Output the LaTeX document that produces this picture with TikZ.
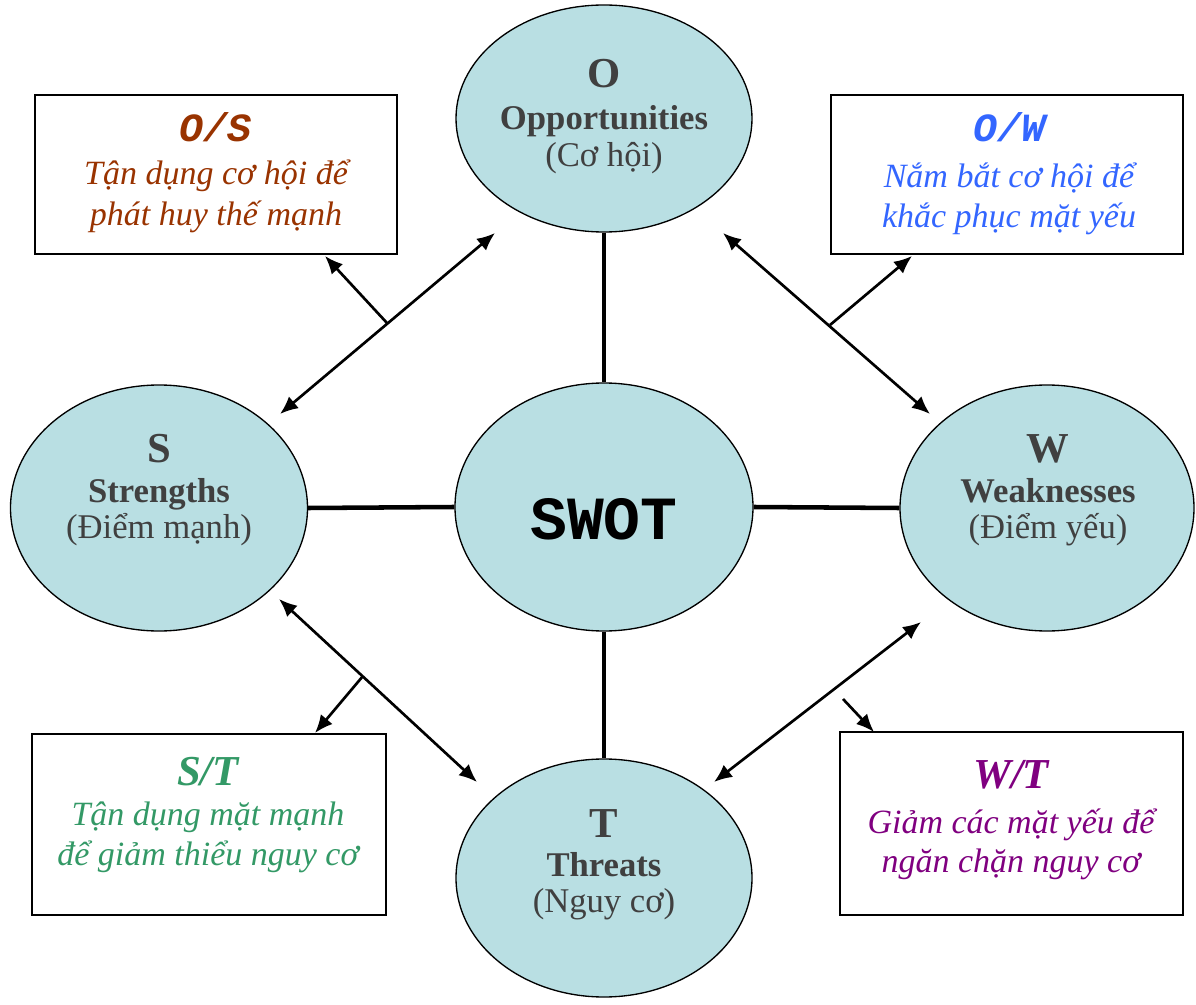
\documentclass[tikz,border=0pt]{standalone}
\usepackage{fontspec}
\setmainfont{Liberation Serif}
\setmonofont{Liberation Mono}
\usetikzlibrary{shapes.geometric,arrows.meta}
\definecolor{ellfill}{RGB}{185,223,227}
\definecolor{txtgray}{RGB}{64,64,64}
\definecolor{osc}{RGB}{153,51,0}
\definecolor{owc}{RGB}{51,102,255}
\definecolor{stc}{RGB}{51,153,102}
\definecolor{wtc}{RGB}{128,0,128}
\begin{document}
\begin{tikzpicture}[x=0.75pt,y=-0.75pt,
 ell/.style={ellipse, draw=black, line width=1pt, fill=ellfill, inner sep=0pt},
 box/.style={rectangle, draw=black, line width=1.5pt, fill=white, inner sep=0pt},
 bigl/.style={anchor=base, text=txtgray, inner sep=0pt, font=\bfseries\fontsize{32}{36}\selectfont},
 namel/.style={anchor=base, text=txtgray, inner sep=0pt, font=\bfseries\fontsize{26}{30}\selectfont},
 vnl/.style={anchor=base, text=txtgray, inner sep=0pt, font=\fontsize{26}{30}\selectfont},
 monohead/.style={anchor=base, inner sep=0pt, font=\ttfamily\bfseries\itshape\fontsize{30}{34}\selectfont},
 serifhead/.style={anchor=base, inner sep=0pt, font=\bfseries\itshape\fontsize{32}{36}\selectfont},
 bodyl/.style={anchor=base, inner sep=0pt, font=\itshape\fontsize{25.5}{29}\selectfont},
 conn/.style={line width=3.4pt},
 dbl/.style={line width=2pt, {Latex[length=13.5pt,width=11.5pt]}-{Latex[length=13.5pt,width=11.5pt]}},
 one/.style={line width=2pt, -{Latex[length=13.5pt,width=11.5pt]}}]
\useasboundingbox (0,0) rectangle (1196,1005);

% ellipses
\node[ell, minimum width=222pt, minimum height=170.25pt] (O) at (604,118.5) {};
\node[ell, minimum width=223.5pt, minimum height=186pt] (SW) at (604,507) {};
\node[ell, minimum width=222.75pt, minimum height=184.5pt] (S) at (159,508) {};
\node[ell, minimum width=220.5pt, minimum height=184.5pt] (W) at (1047,508) {};
\node[ell, minimum width=222pt, minimum height=178.5pt] (T) at (604,878) {};

% thick connectors
\draw[conn] (O.south) -- (SW.north);
\draw[conn] (S.east) -- (SW.west);
\draw[conn] (SW.east) -- (W.west);
\draw[conn] (SW.south) -- (T.north);

% ellipse texts
\node[bigl] (Oa) at (604,88) {O};
\node[namel] (Ob) at (604,130) {Opportunities};
\node[vnl] (Oc) at (604,167) {(Cơ hội)};

\node[bigl] (Sa) at (159,462) {S};
\node[namel] (Sb) at (159,503) {Strengths};
\node[vnl] (Sc) at (159,538) {(Điểm mạnh)};

\node[bigl] (Wa) at (1048,462) {W};
\node[namel] (Wb) at (1048,503) {Weaknesses};
\node[vnl] (Wc) at (1048,538) {(Điểm yếu)};

\node[bigl] (Ta) at (604,837) {T};
\node[namel] (Tb) at (604,876) {Threats};
\node[vnl] (Tc) at (604,912) {(Nguy cơ)};

\node[anchor=base, inner sep=0pt, font=\ttfamily\bfseries\fontsize{46}{50}\selectfont] (SWt) at (604,539) {SWOT};

% boxes
\node[box, minimum width=271.5pt, minimum height=119.25pt] (OS) at (216,174.5) {};
\node[box, minimum width=264pt, minimum height=119.25pt] (OW) at (1007,174.5) {};
\node[box, minimum width=265.5pt, minimum height=135.75pt] (ST) at (209,824.5) {};
\node[box, minimum width=257.25pt, minimum height=137.25pt] (WT) at (1011.5,823.5) {};

% box texts
\node[monohead, text=osc] (OSa) at (216,142) {O/S};
\node[bodyl, text=osc] (OSb) at (216,185) {Tận dụng cơ hội để};
\node[bodyl, text=osc] (OSc) at (216,226) {phát huy thế mạnh};

\node[monohead, text=owc] (OWa) at (1009,142) {O/W};
\node[bodyl, text=owc] (OWb) at (1009,188) {Nắm bắt cơ hội để};
\node[bodyl, text=owc] (OWc) at (1009,228) {khắc phục mặt yếu};

\node[serifhead, text=stc] (STa) at (208,785) {S/T};
\node[bodyl, text=stc] (STb) at (208,825) {Tận dụng mặt mạnh};
\node[bodyl, text=stc] (STc) at (208,865) {để giảm thiểu nguy cơ};

\node[serifhead, text=wtc] (WTa) at (1011,788) {W/T};
\node[bodyl, text=wtc] (WTb) at (1011,833) {Giảm các mặt yếu để};
\node[bodyl, text=wtc] (WTc) at (1011,872) {ngăn chặn nguy cơ};

% arrow end points
\coordinate (a1) at (495,233);
\coordinate (a2) at (280,414);
\coordinate (a3) at (387,323);
\coordinate (a4) at (325,256);

\coordinate (b1) at (723,233);
\coordinate (b2) at (930,414);
\coordinate (b3) at (830,325);
\coordinate (b4) at (912,256);

\coordinate (c1) at (279,599);
\coordinate (c2) at (477,782);
\coordinate (c3) at (363,676);
\coordinate (c4) at (315,733);

\coordinate (d1) at (921,622);
\coordinate (d2) at (714,782);
\coordinate (d3) at (843,699);
\coordinate (d4) at (874,732);

\draw[dbl] (a1) -- (a2);
\draw[one] (a3) -- (a4);
\draw[dbl] (b1) -- (b2);
\draw[one] (b3) -- (b4);
\draw[dbl] (c1) -- (c2);
\draw[one] (c3) -- (c4);
\draw[dbl] (d1) -- (d2);
\draw[one] (d3) -- (d4);
\end{tikzpicture}
\end{document}
